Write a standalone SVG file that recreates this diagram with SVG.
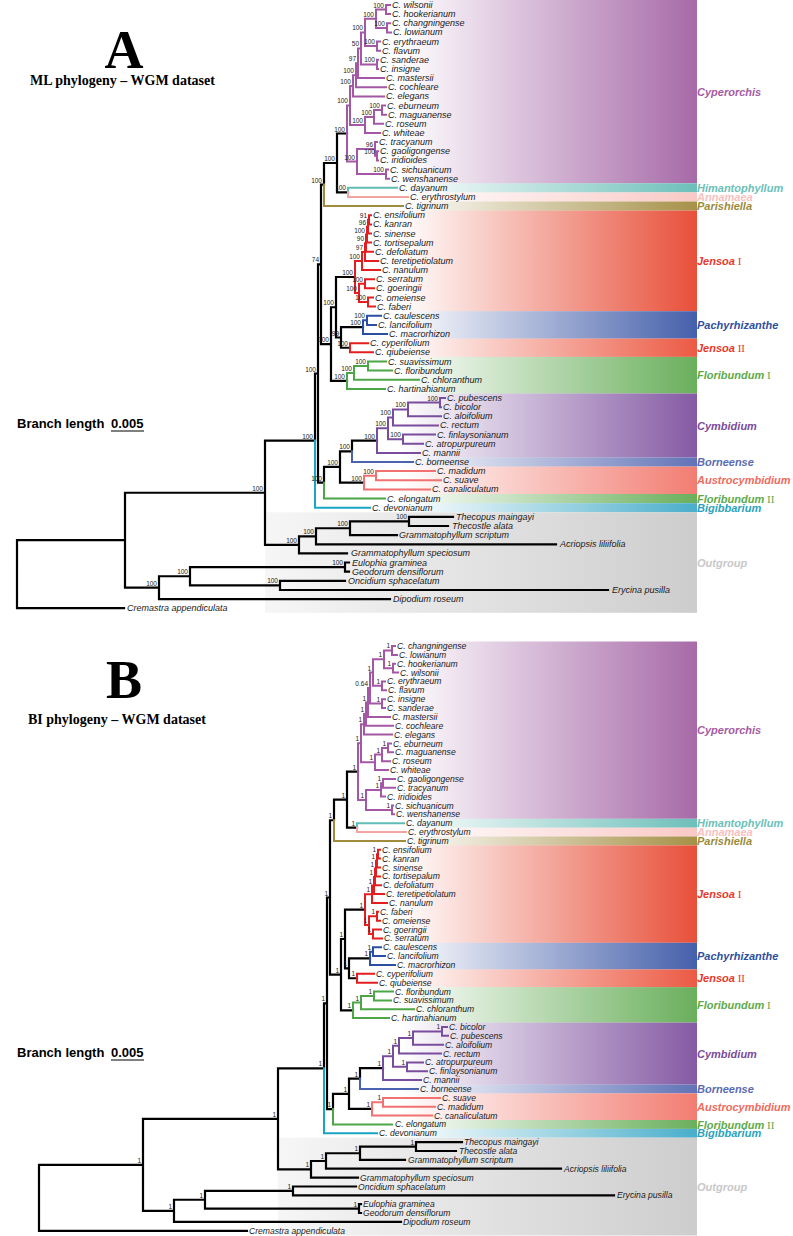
<svg xmlns="http://www.w3.org/2000/svg" width="793" height="1236" viewBox="0 0 793 1236">
<style>
.k{fill:none;stroke:#000;stroke-width:2.2;stroke-linecap:square}
.br{fill:none;stroke-width:2;stroke-linecap:square}
.cy{stroke:#a457a5}.hi{stroke:#5fbdb5}.an{stroke:#f4a3a3}.pa{stroke:#a08c3c}.je{stroke:#e41e1e}.pc{stroke:#2a4ea3}.fl{stroke:#4ca546}.cm{stroke:#7a4c9e}.bo{stroke:#4b62b1}.au{stroke:#f17171}.bi{stroke:#19a5c6}
.t{font-family:"Liberation Sans",Arial,sans-serif;font-style:italic;font-size:9px;fill:#1a1a1a}
.tb{font-family:"Liberation Sans",Arial,sans-serif;font-style:italic;font-size:8.6px;fill:#1a1a1a}
.s{font-family:"Liberation Sans",Arial,sans-serif;font-size:6.5px;text-anchor:end;fill:#222}
.cl{font-family:"Liberation Sans",Arial,sans-serif;font-weight:bold;font-style:italic;font-size:11px}
.rn{font-family:"Liberation Serif","Times New Roman",serif;font-style:normal;font-weight:normal}
.hd{font-family:"Liberation Serif","Times New Roman",serif;font-weight:bold;fill:#000}
.bl{font-family:"Liberation Sans",Arial,sans-serif;font-weight:bold;font-size:13px;fill:#000}
</style>
<defs>
<linearGradient id="gCy"><stop offset="0" stop-color="#a76aa8" stop-opacity="0"/><stop offset="1" stop-color="#a76aa8"/></linearGradient>
<linearGradient id="gHi"><stop offset="0" stop-color="#6dbfb9" stop-opacity="0"/><stop offset="1" stop-color="#6dbfb9"/></linearGradient>
<linearGradient id="gAn"><stop offset="0" stop-color="#f9c9c6" stop-opacity="0"/><stop offset="1" stop-color="#f9c9c6"/></linearGradient>
<linearGradient id="gPa"><stop offset="0" stop-color="#a69148" stop-opacity="0"/><stop offset="1" stop-color="#a69148"/></linearGradient>
<linearGradient id="gJe"><stop offset="0" stop-color="#e8503a" stop-opacity="0"/><stop offset="1" stop-color="#e8503a"/></linearGradient>
<linearGradient id="gPc"><stop offset="0" stop-color="#4560ab" stop-opacity="0"/><stop offset="1" stop-color="#4560ab"/></linearGradient>
<linearGradient id="gJ2"><stop offset="0" stop-color="#ec5a44" stop-opacity="0"/><stop offset="1" stop-color="#ec5a44"/></linearGradient>
<linearGradient id="gFl"><stop offset="0" stop-color="#6aaf5c" stop-opacity="0"/><stop offset="1" stop-color="#6aaf5c"/></linearGradient>
<linearGradient id="gCm"><stop offset="0" stop-color="#855aa4" stop-opacity="0"/><stop offset="1" stop-color="#855aa4"/></linearGradient>
<linearGradient id="gBo"><stop offset="0" stop-color="#6173b7" stop-opacity="0"/><stop offset="1" stop-color="#6173b7"/></linearGradient>
<linearGradient id="gAu"><stop offset="0" stop-color="#f27d72" stop-opacity="0"/><stop offset="1" stop-color="#f27d72"/></linearGradient>
<linearGradient id="gBi"><stop offset="0" stop-color="#4aaecb" stop-opacity="0"/><stop offset="1" stop-color="#4aaecb"/></linearGradient>
<linearGradient id="gOu"><stop offset="0" stop-color="#f6f6f6"/><stop offset="1" stop-color="#cdcdcd"/></linearGradient>
</defs>
<rect x="0" y="0" width="793" height="1236" fill="#fff"/>

<!-- ===================== PANEL A ===================== -->
<g id="bandsA">
<rect x="400" y="0" width="297" height="183.3" fill="url(#gCy)"/>
<rect x="400" y="183.3" width="297" height="9.1" fill="url(#gHi)"/>
<rect x="400" y="192.4" width="297" height="9.1" fill="url(#gAn)"/>
<rect x="400" y="201.5" width="297" height="9.1" fill="url(#gPa)"/>
<rect x="400" y="210.6" width="297" height="100.6" fill="url(#gJe)"/>
<rect x="400" y="311.2" width="297" height="27.4" fill="url(#gPc)"/>
<rect x="400" y="338.6" width="297" height="18.3" fill="url(#gJ2)"/>
<rect x="400" y="356.9" width="297" height="36.6" fill="url(#gFl)"/>
<rect x="400" y="393.5" width="297" height="64" fill="url(#gCm)"/>
<rect x="400" y="457.5" width="297" height="9.1" fill="url(#gBo)"/>
<rect x="400" y="466.6" width="297" height="27.4" fill="url(#gAu)"/>
<rect x="400" y="494" width="297" height="9.2" fill="url(#gFl)"/>
<rect x="400" y="503.2" width="297" height="9.1" fill="url(#gBi)"/>
<rect x="265" y="512.3" width="432" height="100.5" fill="url(#gOu)"/>
</g>

<g id="headerA">
<text class="hd" x="124" y="68" font-size="54" text-anchor="middle">A</text>
<text class="hd" x="30" y="85" font-size="14">ML phylogeny – WGM dataset</text>
<text class="bl" x="17" y="428">Branch length</text>
<text class="bl" x="111" y="428">0.005</text>
<line x1="111" y1="431" x2="144" y2="431" stroke="#000" stroke-width="1"/>
</g>

<g id="connectorsA">
<path class="k" d="M337 133.5H347M337 133.5V192.4M337 192.4H348M324 163V184.6M324 163H337M336 277H355M341 327.2V347.75M341 327.2H363M341 347.75H350M336 277V337.5M336 337.5H341M331 307.25V380.9M331 307.25H336M331 380.9H347M321 184.55V344.1M321 184.55H324M321 344.1H331M352 440.6V451.3M352 440.6H377M340 451.3V482.55M340 451.3H352M340 482.55H364M324 466.9V482.7M324 466.9H340M318 264.3V482.7M318 264.3H321M318 482.7H324M315 373.5V440.6M315 373.5H318M265 440.6V544.85M265 440.6H315M265 544.85H299M409 516.8V526M409 516.8H453M409 526H448M350 521.4V535.1M350 521.4H409M350 535.1H397M316 528.25V544.3M316 528.25H350M316 544.3H556M299 536.3V553.4M299 536.3H316M299 553.4H347M345 562.5V571.7M345 562.5H349M345 571.7H349M280 580.8V590M280 580.8H345M280 590H608M190 567.1V585.4M190 567.1H345M190 585.4H280M159 576.25V599.1M159 576.25H190M159 599.1H390M125 492.75V587.7M125 492.75H265M125 587.7H159M17 540.2V608.2M17 540.2H125M17 608.2H124"/>
<path class="br cy" d="M386 5V14.1M386 5H390M386 14.1H390M387 23.3V32.4M387 23.3H390M387 32.4H391M376 9.6V27.9M376 9.6H386M376 27.9H387M377 41.6V50.7M377 41.6H380M377 50.7H380M365 18.7V46.1M365 18.7H376M365 46.1H377M377 59.8V69M377 59.8H378M377 69H378M361 32.4V64.4M361 32.4H365M361 64.4H377M358 48.4V78.1M358 48.4H361M358 78.1H384M356 63.3V87.3M356 63.3H358M356 87.3H386M353 75.3V96.4M353 75.3H356M353 96.4H384M382 105.5V114.7M382 105.5H385M382 114.7H386M374 110.1V123.8M374 110.1H382M374 123.8H383M365 117V133M365 117H374M365 133H380M350 85.9V125M350 85.9H353M350 125H365M377 151.2V160.4M377 151.2H378M377 160.4H378M375 142.1V155.8M375 142.1H377M375 155.8H377M386 169.5V178.7M386 169.5H388M386 178.7H389M357 149V174.1M357 149H375M357 174.1H386M347 105.4V161.6M347 105.4H350M347 161.6H357"/>
<path class="br hi" d="M348 187.8V192.4M348 187.8H397"/>
<path class="br an" d="M348 192.4V196.9M348 196.9H408"/>
<path class="br pa" d="M324 184.6V206.1M324 206.1H403"/>
<path class="br je" d="M369 215.2V224.4M369 215.2H371M369 224.4H371M368 219.8V233.5M368 219.8H369M368 233.5H371M367 226.65V242.6M367 226.65H368M367 242.6H371M366 234.6V251.8M366 234.6H367M366 251.8H373M365 243.2V260.9M365 243.2H366M365 260.9H378M362 252.05V270.1M362 252.05H365M362 270.1H380M365 279.2V288.3M365 279.2H374M365 288.3H374M368 297.5V306.6M368 297.5H373M368 306.6H375M359 283.75V302.05M359 283.75H365M359 302.05H368M355 261.1V292.9M355 261.1H362M355 292.9H359M350 343.2V352.3M350 343.2H368M350 352.3H373"/>
<path class="br pc" d="M367 315.8V324.9M367 315.8H381M367 324.9H376M363 320.35V334M363 320.35H367M363 334H387"/>
<path class="br fl" d="M368 361.5V370.6M368 361.5H386M368 370.6H392M354 366.05V379.7M354 366.05H368M354 379.7H419M347 372.9V388.9M347 372.9H354M347 388.9H385M324 482.7V498.6M324 498.6H385"/>
<path class="br cm" d="M440 398V407.2M440 398H445M440 407.2H441M408 402.6V416.3M408 402.6H440M408 416.3H441M393 409.45V425.4M393 409.45H408M393 425.4H438M403 434.6V443.7M403 434.6H435M403 443.7H423M388 417.4V439.15M388 417.4H393M388 439.15H403M377 428.3V452.9M377 428.3H388M377 452.9H420"/>
<path class="br bo" d="M352 451.3V462M352 462H413"/>
<path class="br au" d="M376 471.1V480.3M376 471.1H435M376 480.3H441M364 475.7V489.4M364 475.7H376M364 489.4H430"/>
<path class="br bi" d="M315 440.6V507.7M315 507.7H370"/>
</g>

<g id="supportA">
<text class="s" x="384" y="7.6">100</text><text class="s" x="385" y="25.9">100</text><text class="s" x="374" y="16.7">100</text><text class="s" x="375" y="44.1">100</text><text class="s" x="363" y="30.4">100</text><text class="s" x="375" y="62.4">100</text><text class="s" x="359" y="46.4">50</text><text class="s" x="356" y="61.3">97</text><text class="s" x="354" y="73.3">100</text><text class="s" x="351" y="83.9">100</text><text class="s" x="380" y="108.1">100</text><text class="s" x="372" y="115">100</text><text class="s" x="363" y="123">100</text><text class="s" x="348" y="103.4">100</text><text class="s" x="373" y="147">96</text><text class="s" x="375" y="153.8">100</text><text class="s" x="384" y="172.1">100</text><text class="s" x="355" y="159.6">100</text><text class="s" x="345" y="131.5">100</text><text class="s" x="346" y="190.4">100</text><text class="s" x="335" y="161">100</text><text class="s" x="322" y="182.5">100</text><text class="s" x="319" y="262.3">74</text>
<text class="s" x="367" y="217.8">91</text><text class="s" x="366" y="224.6">96</text><text class="s" x="365" y="232.6">100</text><text class="s" x="364" y="241.2">90</text><text class="s" x="363" y="250">97</text><text class="s" x="360" y="259.1">100</text><text class="s" x="363" y="281.7">100</text><text class="s" x="366" y="300">100</text><text class="s" x="357" y="290.9">100</text><text class="s" x="353" y="275">100</text><text class="s" x="334" y="305.2">100</text><text class="s" x="365" y="318.3">100</text><text class="s" x="361" y="325.2">100</text><text class="s" x="348" y="345.7">100</text><text class="s" x="339" y="335.5">99</text><text class="s" x="329" y="342.1">100</text><text class="s" x="366" y="364">100</text><text class="s" x="352" y="370.9">100</text><text class="s" x="345" y="378.9">100</text><text class="s" x="316" y="371.5">100</text><text class="s" x="313" y="438.6">100</text>
<text class="s" x="438" y="400.6">100</text><text class="s" x="406" y="407.4">100</text><text class="s" x="391" y="415.4">100</text><text class="s" x="401" y="437.1">100</text><text class="s" x="386" y="426.3">100</text><text class="s" x="375" y="438.6">100</text><text class="s" x="350" y="449.3">100</text><text class="s" x="374" y="473.7">100</text><text class="s" x="362" y="480.5">100</text><text class="s" x="338" y="464.9">100</text><text class="s" x="322" y="480.7">100</text><text class="s" x="263" y="490.7">100</text>
<text class="s" x="407" y="519.4">100</text><text class="s" x="348" y="526.2">100</text><text class="s" x="314" y="534.3">100</text><text class="s" x="297" y="542.8">100</text><text class="s" x="343" y="565.1">100</text><text class="s" x="278" y="583.4">100</text><text class="s" x="188" y="574.2">100</text><text class="s" x="157" y="585.7">100</text>
</g>

<g id="tipsA-cyperorchis" class="t">
<text x="392" y="8">C. wilsonii</text><text x="392" y="17.1">C. hookerianum</text><text x="392" y="26.3">C. changningense</text><text x="393" y="35.4">C. lowianum</text><text x="382" y="44.6">C. erythraeum</text><text x="382" y="53.7">C. flavum</text><text x="380" y="62.8">C. sanderae</text><text x="380" y="72">C. insigne</text><text x="386" y="81.1">C. mastersii</text><text x="388" y="90.3">C. cochleare</text><text x="386" y="99.4">C. elegans</text><text x="387" y="108.5">C. eburneum</text><text x="388" y="117.7">C. maguanense</text><text x="385" y="126.8">C. roseum</text><text x="382" y="136">C. whiteae</text><text x="379" y="145.1">C. tracyanum</text><text x="380" y="154.2">C. gaoligongense</text><text x="380" y="163.4">C. iridioides</text><text x="390" y="172.5">C. sichuanicum</text><text x="391" y="181.7">C. wenshanense</text>
</g>
<g id="tipsA-middle" class="t">
<text x="399" y="190.8">C. dayanum</text><text x="410" y="199.9">C. erythrostylum</text><text x="405" y="209.1">C. tigrinum</text>
<text x="373" y="218.2">C. ensifolium</text><text x="373" y="227.4">C. kanran</text><text x="373" y="236.5">C. sinense</text><text x="373" y="245.6">C. tortisepalum</text><text x="375" y="254.8">C. defoliatum</text><text x="380" y="263.9">C. teretipetiolatum</text><text x="382" y="273.1">C. nanulum</text><text x="376" y="282.2">C. serratum</text><text x="376" y="291.3">C. goeringii</text><text x="375" y="300.5">C. omeiense</text><text x="377" y="309.6">C. faberi</text>
<text x="383" y="318.8">C. caulescens</text><text x="378" y="327.9">C. lancifolium</text><text x="389" y="337">C. macrorhizon</text><text x="370" y="346.2">C. cyperifolium</text><text x="375" y="355.3">C. qiubeiense</text>
<text x="388" y="364.5">C. suavissimum</text><text x="394" y="373.6">C. floribundum</text><text x="421" y="382.7">C. chloranthum</text><text x="387" y="391.9">C. hartinahianum</text>
</g>
<g id="tipsA-cymbidium" class="t">
<text x="447" y="401">C. pubescens</text><text x="443" y="410.2">C. bicolor</text><text x="443" y="419.3">C. aloifolium</text><text x="440" y="428.4">C. rectum</text><text x="437" y="437.6">C. finlaysonianum</text><text x="425" y="446.7">C. atropurpureum</text><text x="422" y="455.9">C. mannii</text><text x="415" y="465">C. borneense</text><text x="437" y="474.1">C. madidum</text><text x="443" y="483.3">C. suave</text><text x="432" y="492.4">C. canaliculatum</text><text x="387" y="501.6">C. elongatum</text><text x="372" y="510.7">C. devonianum</text>
</g>
<g id="tipsA-outgroup" class="t">
<text x="456" y="519.8">Thecopus maingayi</text><text x="452" y="529">Thecostle alata</text><text x="399" y="538.1">Grammatophyllum scriptum</text><text x="560" y="547.3">Acriopsis liliifolia</text><text x="351" y="556.4">Grammatophyllum speciosum</text><text x="352" y="565.5">Eulophia graminea</text><text x="352" y="574.7">Geodorum densiflorum</text><text x="348" y="583.8">Oncidium sphacelatum</text><text x="612" y="593">Erycina pusilla</text><text x="393" y="602.1">Dipodium roseum</text><text x="127" y="611.2">Cremastra appendiculata</text>
</g>

<g id="cladesA" class="cl">
<text x="697" y="95.6" fill="#a55ba4">Cyperorchis</text>
<text x="697" y="191.9" fill="#6cc0b8">Himantophyllum</text>
<text x="697" y="201" fill="#f8c0c0">Annamaea</text>
<text x="697" y="210" fill="#9b8a3c">Parishiella</text>
<text x="697" y="265" fill="#e8382b">Jensoa<tspan class="rn"> I</tspan></text>
<text x="697" y="329" fill="#2f4f9e">Pachyrhizanthe</text>
<text x="697" y="351.8" fill="#e8382b">Jensoa<tspan class="rn"> II</tspan></text>
<text x="697" y="379.2" fill="#5daa4b">Floribundum<tspan class="rn"> I</tspan></text>
<text x="697" y="429.5" fill="#7b4b9b">Cymbidium</text>
<text x="697" y="466" fill="#5a6bb3">Borneense</text>
<text x="697" y="484.3" fill="#ef6b5d">Austrocymbidium</text>
<text x="697" y="502.6" fill="#5daa4b">Floribundum<tspan class="rn"> II</tspan></text>
<text x="697" y="511.7" fill="#2aa2bd">Bigibbarium</text>
<text x="697" y="566.5" fill="#c8c8c8">Outgroup</text>
</g>

<!-- ===================== PANEL B ===================== -->
<g id="bandsB">
<rect x="400" y="641.5" width="297" height="177.3" fill="url(#gCy)"/>
<rect x="400" y="818.8" width="297" height="8.9" fill="url(#gHi)"/>
<rect x="400" y="827.7" width="297" height="8.8" fill="url(#gAn)"/>
<rect x="400" y="836.5" width="297" height="8.9" fill="url(#gPa)"/>
<rect x="400" y="845.4" width="297" height="97.4" fill="url(#gJe)"/>
<rect x="400" y="942.8" width="297" height="26.6" fill="url(#gPc)"/>
<rect x="400" y="969.4" width="297" height="17.7" fill="url(#gJ2)"/>
<rect x="400" y="987.1" width="297" height="35.5" fill="url(#gFl)"/>
<rect x="400" y="1022.6" width="297" height="62" fill="url(#gCm)"/>
<rect x="400" y="1084.6" width="297" height="8.8" fill="url(#gBo)"/>
<rect x="400" y="1093.4" width="297" height="26.6" fill="url(#gAu)"/>
<rect x="400" y="1120" width="297" height="8.9" fill="url(#gFl)"/>
<rect x="400" y="1128.9" width="297" height="8.8" fill="url(#gBi)"/>
<rect x="278" y="1137.7" width="419" height="97.8" fill="url(#gOu)"/>
</g>

<g id="headerB">
<text class="hd" x="124" y="698" font-size="54" text-anchor="middle">B</text>
<text class="hd" x="28" y="724" font-size="14">BI phylogeny – WGM dataset</text>
<text class="bl" x="17" y="1057">Branch length</text>
<text class="bl" x="111" y="1057">0.005</text>
<line x1="111" y1="1060" x2="144" y2="1060" stroke="#000" stroke-width="1"/>
</g>

<g id="connectorsB">
<path class="k" d="M347 771.6V827.65M347 771.6H358M347 827.65H357M334 799.6V820.25M334 799.6H347M349 958.3V978.25M349 958.3H370M349 978.25H357M345 909.65V968.3M345 909.65H365M345 968.3H349M341 939V1010.35M341 939H345M341 1010.35H353M330 820.25V974.7M330 820.25H334M330 974.7H341M360 1068.2V1078.6M360 1068.2H383M349 1078.6V1108.95M349 1078.6H360M349 1108.95H372M333 1093.8V1109.1M333 1093.8H349M327 897.5V1109.1M327 897.5H330M327 1109.1H333M324 1003.3V1068.3M324 1003.3H327M278 1068.3V1169.3M278 1068.3H324M278 1169.3H311M416 1142.2V1151M416 1142.2H462M416 1151H456M360 1146.6V1159.9M360 1146.6H416M360 1159.9H405M326 1153.25V1168.7M326 1153.25H360M326 1168.7H561M311 1161V1177.6M311 1161H326M311 1177.6H358M293 1186.5V1195.3M293 1186.5H356M293 1195.3H614M359 1204.2V1213M359 1204.2H361M359 1213H361M205 1190.9V1208.6M205 1190.9H293M205 1208.6H359M174 1199.75V1221.9M174 1199.75H205M174 1221.9H401M143 1118.8V1210.8M143 1118.8H278M143 1210.8H174M39 1164.8V1230.8M39 1164.8H143M39 1230.8H247"/>
<path class="br cy" d="M392 646V654.9M392 646H395M392 654.9H397M393 663.7V672.6M393 663.7H395M393 672.6H398M384 650.45V668.15M384 650.45H392M384 668.15H393M382 681.4V690.3M382 681.4H385M382 690.3H386M373 659.3V685.85M373 659.3H384M373 685.85H382M382 699.2V708M382 699.2H385M382 708H385M370 672.6V703.6M370 672.6H373M370 703.6H382M368 688.1V716.9M368 688.1H370M368 716.9H390M366 702.5V725.7M366 702.5H368M366 725.7H393M364 714.1V734.6M364 714.1H366M364 734.6H392M388 743.5V752.3M388 743.5H391M388 752.3H393M382 747.9V761.2M382 747.9H388M382 761.2H390M375 754.55V770M375 754.55H382M375 770H388M361 724.35V762.3M361 724.35H364M361 762.3H375M383 778.9V787.8M383 778.9H395M383 787.8H395M381 783.35V796.6M381 783.35H383M381 796.6H385M392 805.5V814.3M392 805.5H393M392 814.3H394M366 790V809.9M366 790H381M366 809.9H392M358 743.3V799.95M358 743.3H361M358 799.95H366"/>
<path class="br hi" d="M357 823.2V827.65M357 823.2H404"/>
<path class="br an" d="M357 827.65V832.1M357 832.1H406"/>
<path class="br pa" d="M334 820.25V840.9M334 840.9H405"/>
<path class="br je" d="M378 849.8V858.6M378 849.8H380M378 858.6H380M377 854.2V867.5M377 854.2H378M377 867.5H380M376 860.85V876.4M376 860.85H377M376 876.4H380M375 868.6V885.2M375 868.6H376M375 885.2H381M374 876.9V894.1M374 876.9H375M374 894.1H384M372 885.5V902.9M372 885.5H374M372 902.9H387M377 911.8V920.7M377 911.8H378M377 920.7H380M373 929.5V938.4M373 929.5H381M373 938.4H382M369 916.25V933.95M369 916.25H377M369 933.95H373M365 894.2V925.1M365 894.2H372M365 925.1H369M357 973.8V982.7M357 973.8H374M357 982.7H377"/>
<path class="br pc" d="M373 947.2V956.1M373 947.2H381M373 956.1H385M370 951.65V965M370 951.65H373M370 965H395"/>
<path class="br fl" d="M374 991.5V1000.4M374 991.5H393M374 1000.4H391M361 995.95V1009.3M361 995.95H374M361 1009.3H414M353 1002.6V1018.1M353 1002.6H361M353 1018.1H389M333 1109.1V1124.4M333 1124.4H392"/>
<path class="br cm" d="M442 1027V1035.8M442 1027H447M442 1035.8H448M413 1031.4V1044.7M413 1031.4H442M413 1044.7H443M399 1038.05V1053.6M399 1038.05H413M399 1053.6H441M407 1062.4V1071.3M407 1062.4H423M407 1071.3H427M393 1045.8V1066.85M393 1045.8H399M393 1066.85H407M383 1056.3V1080.1M383 1056.3H393M383 1080.1H421"/>
<path class="br bo" d="M360 1078.6V1089M360 1089H418"/>
<path class="br au" d="M383 1097.9V1106.7M383 1097.9H440M383 1106.7H435M372 1102.3V1115.6M372 1102.3H383M372 1115.6H432"/>
<path class="br bi" d="M324 1068.3V1133.3M324 1133.3H377"/>
</g>

<g id="supportB">
<text class="s" x="390" y="648.4">1</text><text class="s" x="391" y="666.1">1</text><text class="s" x="382" y="657.3">1</text><text class="s" x="380" y="683.8">1</text><text class="s" x="371" y="670.6">1</text><text class="s" x="380" y="701.6">1</text><text class="s" x="368" y="686.1">0.64</text><text class="s" x="366" y="700.5">1</text><text class="s" x="364" y="712.1">1</text><text class="s" x="362" y="722.3">1</text><text class="s" x="386" y="745.9">1</text><text class="s" x="380" y="752.5">1</text><text class="s" x="373" y="760.3">1</text><text class="s" x="359" y="741.3">1</text><text class="s" x="381" y="781.3">1</text><text class="s" x="379" y="788">1</text><text class="s" x="390" y="807.9">1</text><text class="s" x="364" y="797.9">1</text><text class="s" x="356" y="769.6">1</text><text class="s" x="355" y="825.6">1</text><text class="s" x="345" y="797.6">1</text><text class="s" x="332" y="818.2">1</text><text class="s" x="328" y="895.5">1</text>
<text class="s" x="376" y="852.2">1</text><text class="s" x="375" y="858.8">1</text><text class="s" x="374" y="866.6">1</text><text class="s" x="373" y="874.9">1</text><text class="s" x="372" y="883.5">1</text><text class="s" x="370" y="892.2">1</text><text class="s" x="375" y="914.2">1</text><text class="s" x="371" y="931.9">1</text><text class="s" x="367" y="923.1">1</text><text class="s" x="363" y="907.6">1</text><text class="s" x="371" y="949.6">1</text><text class="s" x="368" y="956.3">1</text><text class="s" x="355" y="976.2">1</text><text class="s" x="347" y="966.3">1</text><text class="s" x="343" y="937">1</text><text class="s" x="372" y="993.9">1</text><text class="s" x="359" y="1000.6">1</text><text class="s" x="351" y="1008.3">1</text><text class="s" x="339" y="972.7">1</text>
<text class="s" x="440" y="1029.4">1</text><text class="s" x="411" y="1036">1</text><text class="s" x="397" y="1043.8">1</text><text class="s" x="405" y="1064.8">1</text><text class="s" x="391" y="1054.3">1</text><text class="s" x="381" y="1066.2">1</text><text class="s" x="358" y="1076.6">1</text><text class="s" x="381" y="1100.3">1</text><text class="s" x="370" y="1106.9">1</text><text class="s" x="347" y="1091.8">1</text><text class="s" x="331" y="1107.1">1</text><text class="s" x="325" y="1001.3">1</text><text class="s" x="322" y="1066.3">1</text><text class="s" x="276" y="1116.8">1</text>
<text class="s" x="414" y="1144.6">1</text><text class="s" x="358" y="1151.2">1</text><text class="s" x="324" y="1159">1</text><text class="s" x="309" y="1167.3">1</text><text class="s" x="291" y="1188.9">1</text><text class="s" x="357" y="1206.6">1</text><text class="s" x="203" y="1197.7">1</text><text class="s" x="172" y="1208.8">1</text><text class="s" x="141" y="1162.8">1</text>
</g>

<g id="tipsB-cyperorchis" class="tb">
<text x="397" y="649">C. changningense</text><text x="399" y="657.9">C. lowianum</text><text x="397" y="666.7">C. hookerianum</text><text x="400" y="675.6">C. wilsonii</text><text x="387" y="684.4">C. erythraeum</text><text x="388" y="693.3">C. flavum</text><text x="387" y="702.2">C. insigne</text><text x="387" y="711">C. sanderae</text><text x="392" y="719.9">C. mastersii</text><text x="395" y="728.7">C. cochleare</text><text x="394" y="737.6">C. elegans</text><text x="393" y="746.5">C. eburneum</text><text x="395" y="755.3">C. maguanense</text><text x="392" y="764.2">C. roseum</text><text x="390" y="773">C. whiteae</text><text x="397" y="781.9">C. gaoligongense</text><text x="397" y="790.8">C. tracyanum</text><text x="387" y="799.6">C. iridioides</text><text x="395" y="808.5">C. sichuanicum</text><text x="396" y="817.3">C. wenshanense</text>
</g>
<g id="tipsB-middle" class="tb">
<text x="406" y="826.2">C. dayanum</text><text x="408" y="835.1">C. erythrostylum</text><text x="407" y="843.9">C. tigrinum</text>
<text x="382" y="852.8">C. ensifolium</text><text x="382" y="861.6">C. kanran</text><text x="382" y="870.5">C. sinense</text><text x="382" y="879.4">C. tortisepalum</text><text x="383" y="888.2">C. defoliatum</text><text x="386" y="897.1">C. teretipetiolatum</text><text x="389" y="905.9">C. nanulum</text><text x="380" y="914.8">C. faberi</text><text x="382" y="923.7">C. omeiense</text><text x="383" y="932.5">C. goeringii</text><text x="384" y="941.4">C. serratum</text>
<text x="383" y="950.2">C. caulescens</text><text x="387" y="959.1">C. lancifolium</text><text x="397" y="968">C. macrorhizon</text><text x="376" y="976.8">C. cyperifolium</text><text x="379" y="985.7">C. qiubeiense</text>
<text x="395" y="994.5">C. floribundum</text><text x="393" y="1003.4">C. suavissimum</text><text x="416" y="1012.3">C. chloranthum</text><text x="391" y="1021.1">C. hartinahianum</text>
</g>
<g id="tipsB-cymbidium" class="tb">
<text x="449" y="1030">C. bicolor</text><text x="450" y="1038.8">C. pubescens</text><text x="445" y="1047.7">C. aloifolium</text><text x="443" y="1056.6">C. rectum</text><text x="425" y="1065.4">C. atropurpureum</text><text x="429" y="1074.3">C. finlaysonianum</text><text x="423" y="1083.1">C. mannii</text><text x="420" y="1092">C. borneense</text><text x="442" y="1100.9">C. suave</text><text x="437" y="1109.7">C. madidum</text><text x="434" y="1118.6">C. canaliculatum</text><text x="395" y="1127.4">C. elongatum</text><text x="379" y="1136.3">C. devonianum</text>
</g>
<g id="tipsB-outgroup" class="tb">
<text x="464" y="1145.2">Thecopus maingayi</text><text x="459" y="1154">Thecostle alata</text><text x="408" y="1162.9">Grammatophyllum scriptum</text><text x="564" y="1171.7">Acriopsis liliifolia</text><text x="360" y="1180.6">Grammatophyllum speciosum</text><text x="358" y="1189.5">Oncidium sphacelatum</text><text x="617" y="1198.3">Erycina pusilla</text><text x="363" y="1207.2">Eulophia graminea</text><text x="363" y="1216">Geodorum densiflorum</text><text x="403" y="1224.9">Dipodium roseum</text><text x="249" y="1233.8">Cremastra appendiculata</text>
</g>

<g id="cladesB" class="cl">
<text x="697" y="734.2" fill="#a55ba4">Cyperorchis</text>
<text x="697" y="827.2" fill="#6cc0b8">Himantophyllum</text>
<text x="697" y="836.1" fill="#f8c0c0">Annamaea</text>
<text x="697" y="844.9" fill="#9b8a3c">Parishiella</text>
<text x="697" y="898.1" fill="#e8382b">Jensoa<tspan class="rn"> I</tspan></text>
<text x="697" y="960.1" fill="#2f4f9e">Pachyrhizanthe</text>
<text x="697" y="982.3" fill="#e8382b">Jensoa<tspan class="rn"> II</tspan></text>
<text x="697" y="1008.9" fill="#5daa4b">Floribundum<tspan class="rn"> I</tspan></text>
<text x="697" y="1057.6" fill="#7b4b9b">Cymbidium</text>
<text x="697" y="1093" fill="#5a6bb3">Borneense</text>
<text x="697" y="1110.7" fill="#ef6b5d">Austrocymbidium</text>
<text x="697" y="1128.5" fill="#5daa4b">Floribundum<tspan class="rn"> II</tspan></text>
<text x="697" y="1137.3" fill="#2aa2bd">Bigibbarium</text>
<text x="697" y="1190.6" fill="#c8c8c8">Outgroup</text>
</g>
</svg>
